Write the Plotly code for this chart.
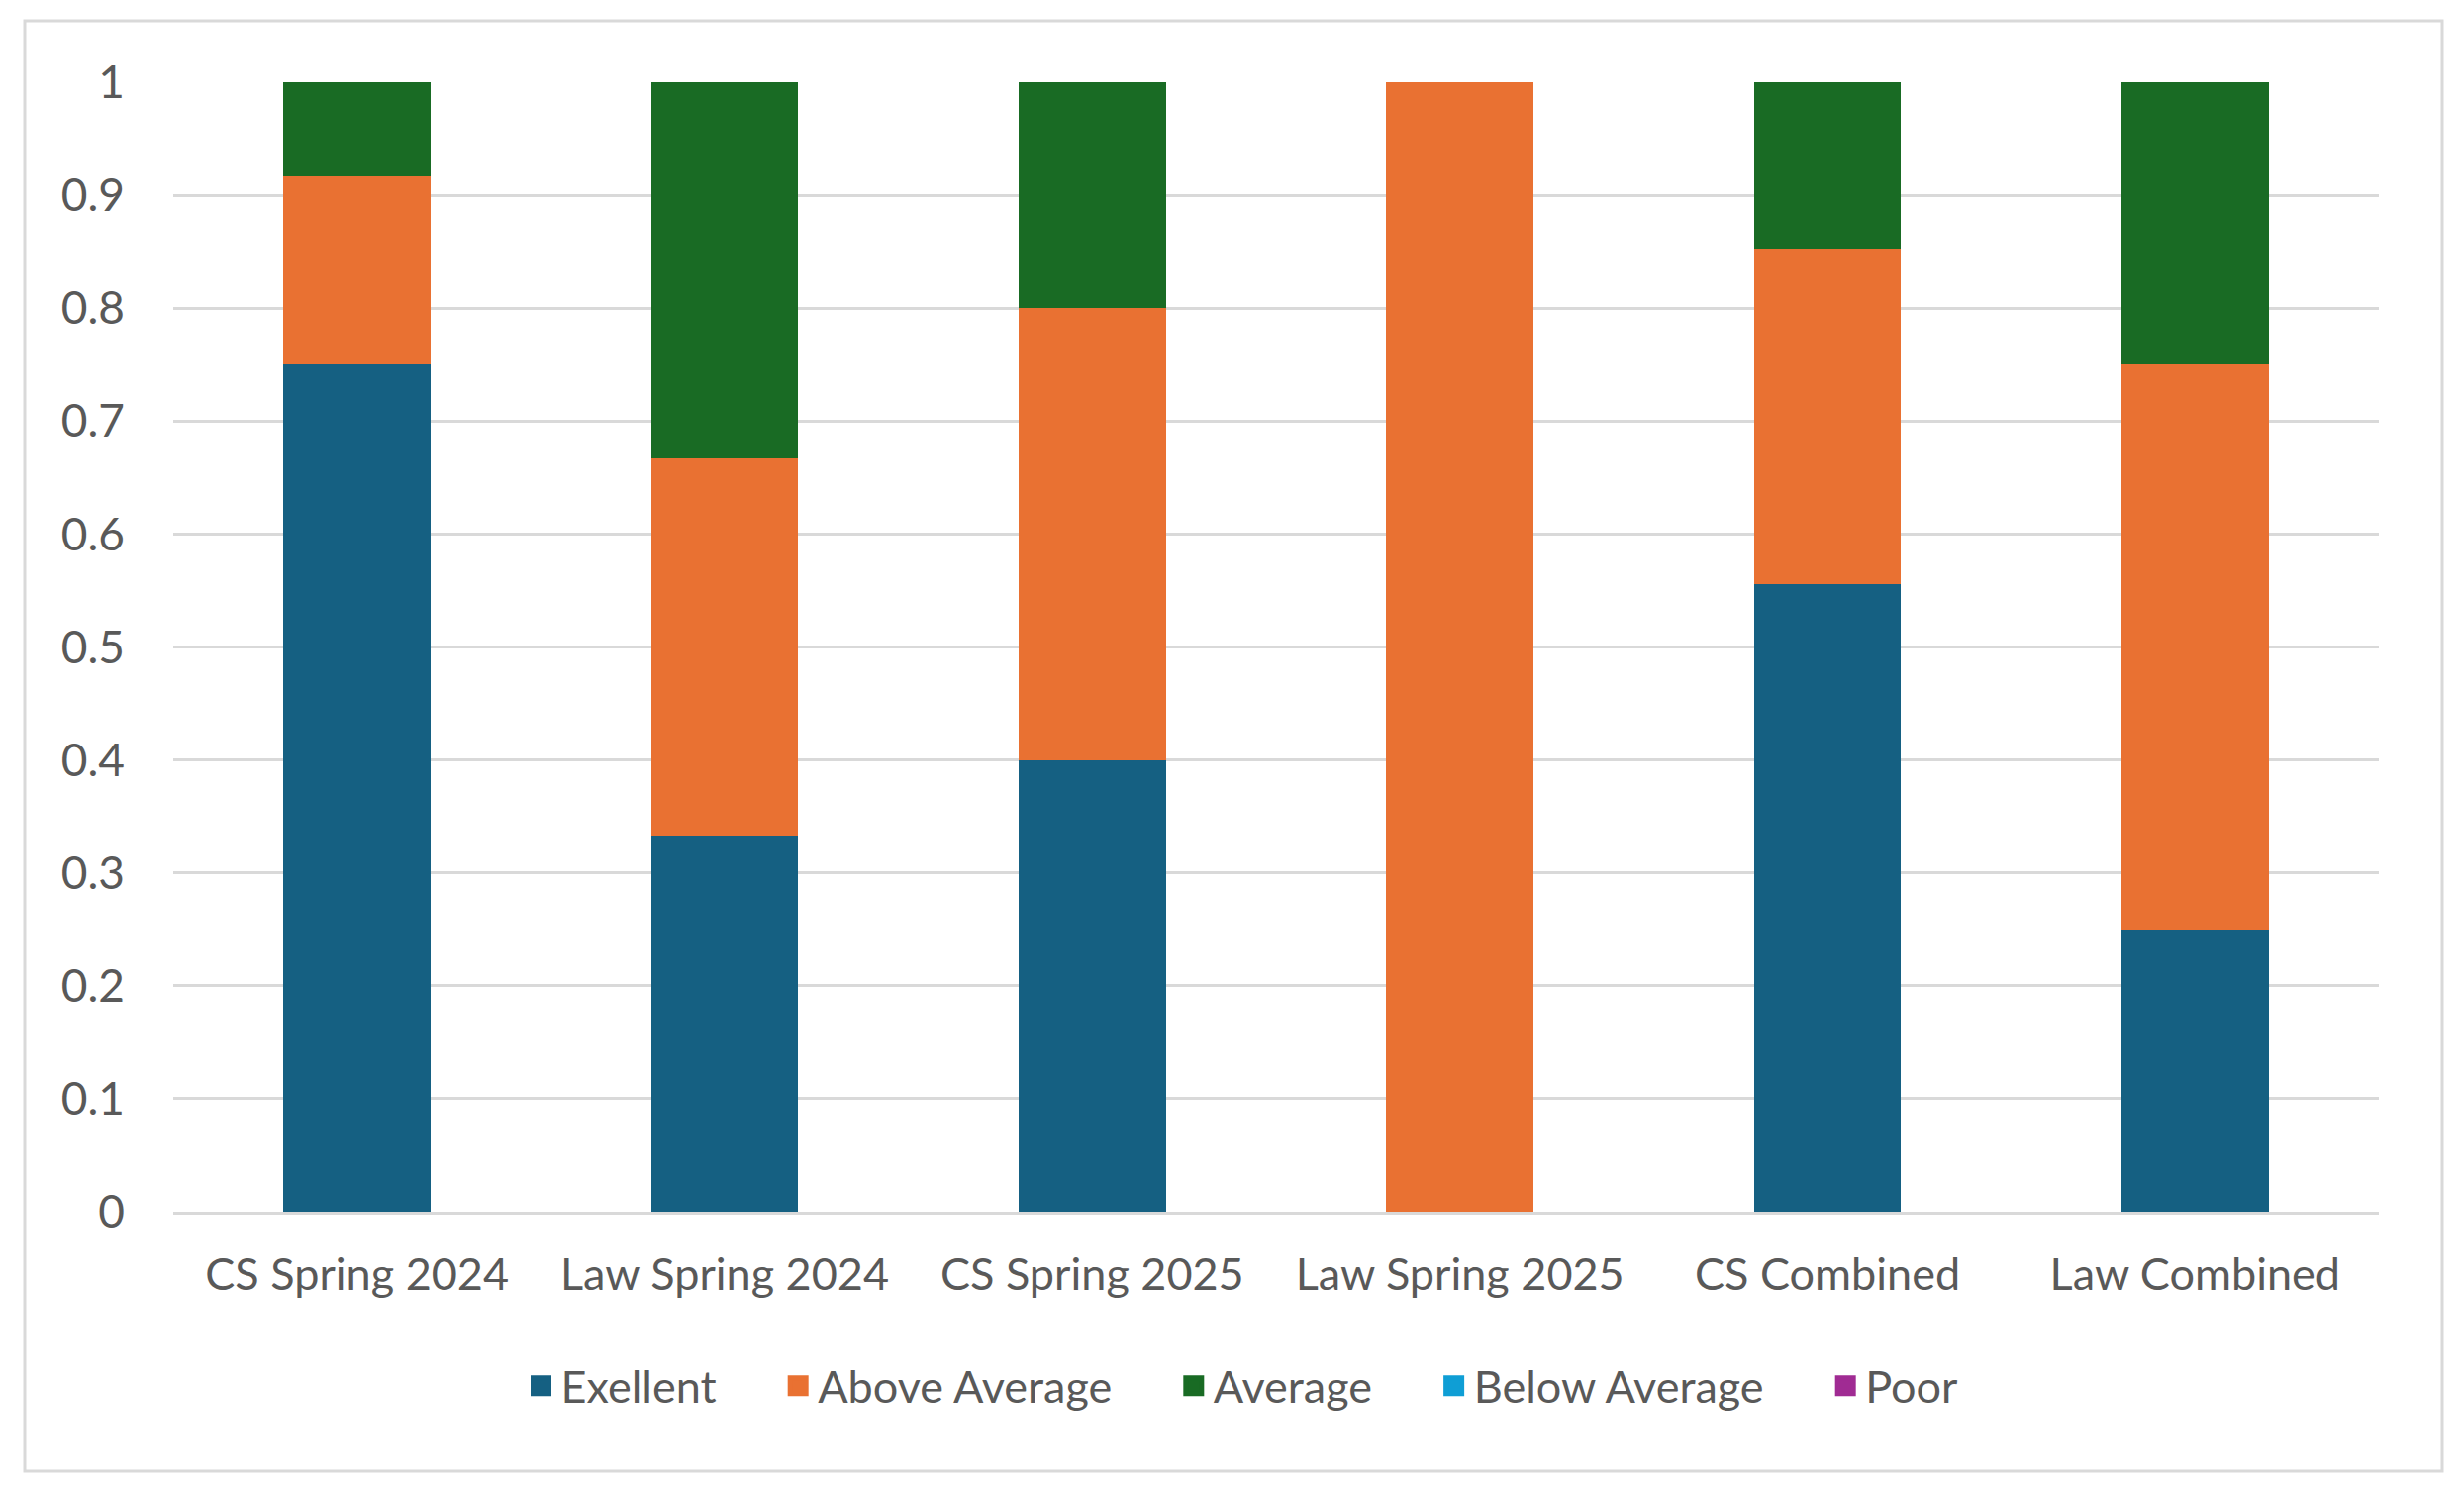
import plotly.graph_objects as go

categories = ["CS Spring 2024", "Law Spring 2024", "CS Spring 2025",
              "Law Spring 2025", "CS Combined", "Law Combined"]
excellent = [0.75, 0.3333, 0.40, 0.0, 0.5556, 0.25]
above_average = [0.1667, 0.3333, 0.40, 1.0, 0.2963, 0.50]
average = [0.0833, 0.3334, 0.20, 0.0, 0.1481, 0.25]
below_average = [0, 0, 0, 0, 0, 0]
poor = [0, 0, 0, 0, 0, 0]
y_ticks = [0, 0.1, 0.2, 0.3, 0.4, 0.5, 0.6, 0.7, 0.8, 0.9, 1]
y_tick_labels = ["0", "0.1", "0.2", "0.3", "0.4", "0.5", "0.6", "0.7", "0.8", "0.9", "1"]

series = [
    ("Exellent", excellent, "#156082"),
    ("Above Average", above_average, "#E97132"),
    ("Average", average, "#196B24"),
    ("Below Average", below_average, "#0F9ED5"),
    ("Poor", poor, "#A02B93"),
]

FONT = "Lato"
TXT = "#595959"
PAD = "\u00a0" * 5

fig = go.Figure()
for name, vals, color in series:
    fig.add_trace(go.Bar(x=categories, y=vals, name=name, showlegend=False,
                         legendgroup=name,
                         marker=dict(color=color, line=dict(width=0))))
# legend entries (larger square swatches)
for i, (name, vals, color) in enumerate(series):
    label = name + (PAD if i < len(series) - 1 else "")
    fig.add_trace(go.Scatter(x=[None], y=[None], mode="markers", name=label,
                             legendgroup=name,
                             marker=dict(symbol="square", size=16, color=color,
                                         line=dict(color=color, width=5))))

OFF = 8  # browser body margin
W, H = 2489 - OFF, 1506 - OFF
plot_l, plot_r, plot_t, plot_b = 175 - OFF, 2403 - OFF, 83 - OFF, 1224 - OFF
L, R, T, B = plot_l, W - plot_r, plot_t, H - plot_b
pw = plot_r - plot_l
ph = plot_b - plot_t


def px_x(x):
    return (x - OFF - plot_l) / pw


def px_y(y):
    return (plot_b - (y - OFF)) / ph


fig.update_layout(
    width=W, height=H,
    barmode="stack", bargap=0.6,
    paper_bgcolor="white", plot_bgcolor="white",
    margin=dict(l=L, r=R, t=T, b=B, pad=0),
    font=dict(family=FONT, size=45, color=TXT),
    legend=dict(orientation="h", x=px_x(1255), xanchor="center",
                y=px_y(1400), yanchor="middle",
                font=dict(family=FONT, size=45, color=TXT),
                traceorder="normal", itemwidth=30,
                bgcolor="rgba(0,0,0,0)"),
    xaxis=dict(showgrid=False, showline=True, linecolor="#D9D9D9", linewidth=3,
               ticks="", ticklabelstandoff=22,
               tickfont=dict(family=FONT, size=45, color=TXT)),
    yaxis=dict(range=[0, 1], tickvals=y_ticks, ticktext=y_tick_labels,
               showgrid=True, gridcolor="#D9D9D9", gridwidth=3,
               zeroline=False, showline=False, ticks="",
               ticklabelstandoff=48,
               tickfont=dict(family=FONT, size=46, color=TXT)),
    shapes=[dict(type="rect", xref="paper", yref="paper",
                 x0=px_x(25), x1=px_x(2467),
                 y0=px_y(1486), y1=px_y(21),
                 line=dict(color="#D9D9D9", width=3), fillcolor="rgba(0,0,0,0)",
                 layer="below")],
)

fig.write_html("out.html")
